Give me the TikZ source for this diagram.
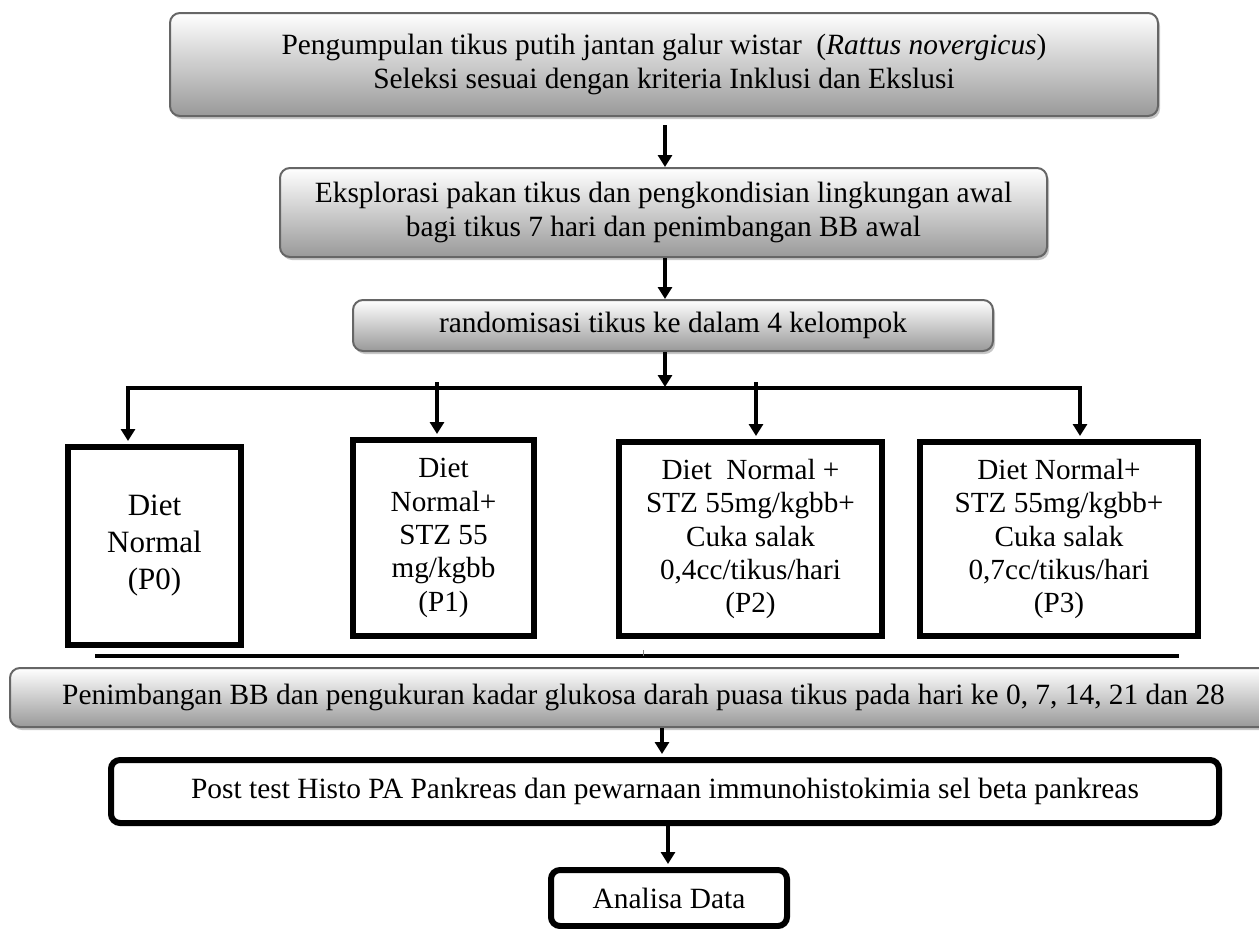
\documentclass[tikz,border=0pt]{standalone}
\usepackage{fontspec}
\setmainfont{Liberation Serif}
\usetikzlibrary{arrows.meta,shadows}

\begin{document}
\begin{tikzpicture}[x=1pt,y=-1pt,
    graybox/.style={draw=black!60, line width=2pt, rounded corners=10pt,
      top color=white, bottom color=black!40,
      drop shadow={shadow xshift=2pt, shadow yshift=-3pt, fill=black!22, opacity=1},
      align=center, inner sep=0pt, font=\fontsize{29.4}{34.5}\selectfont},
    groupbox/.style={draw, line width=6pt, fill=white, align=center, inner sep=0pt,
      font=\fontsize{29.2}{33.3}\selectfont},
    stepbox/.style={draw, line width=6pt, rounded corners=9pt, fill=white,
      align=center, inner sep=0pt, font=\fontsize{29.4}{34}\selectfont},
    arr/.style={line width=3.5pt, -{Triangle[length=12pt,width=14pt]}},
    bus/.style={line width=4pt}]
  \useasboundingbox (0,0) rectangle (1259,929);

  % Preparation steps (shaded boxes)
  \node[graybox, minimum width=988pt, minimum height=103pt] (kumpul) at (664,64.5)
    {Pengumpulan tikus putih jantan galur wistar~ (\textit{Rattus novergicus})\\
     Seleksi sesuai dengan kriteria Inklusi dan Ekslusi};
  \node[graybox, minimum width=767pt, minimum height=89pt] (adaptasi) at (663.5,212.5)
    {Eksplorasi pakan tikus dan pengkondisian lingkungan awal\\
     bagi tikus 7 hari dan penimbangan BB awal};
  \node[graybox, minimum width=640pt, minimum height=51pt] (acak) at (673,325.5)
    {randomisasi tikus ke dalam 4 kelompok};

  \coordinate (spine) at (665,0);
  \draw[arr, shorten <=8pt] (kumpul.south -| spine) -- (adaptasi.north -| spine);
  \draw[arr] (adaptasi.south -| spine) -- (acak.north -| spine);

  % Four treatment groups
  \node[groupbox, minimum width=173pt, minimum height=198pt,
        font=\fontsize{31}{37}\selectfont] (p0) at (154.5,546) {Diet\\Normal\\(P0)};
  \node[groupbox, minimum width=181pt, minimum height=196pt] (p1) at (443.5,538)
    {Diet\\Normal+\\STZ 55\\mg/kgbb\\(P1)};
  \node[groupbox, minimum width=263pt, minimum height=194pt] (p2) at (750.5,539)
    {Diet~ Normal +\\STZ 55mg/kgbb+\\Cuka salak\\0,4cc/tikus/hari\\(P2)};
  \node[groupbox, minimum width=278pt, minimum height=194pt] (p3) at (1059,539)
    {Diet Normal+\\STZ 55mg/kgbb+\\Cuka salak\\0,7cc/tikus/hari\\(P3)};

  % Branching line
  \coordinate (busl) at (128,388);
  \coordinate (busr) at (1080,388);
  \coordinate (d1) at (437,382);
  \coordinate (d2) at (756,382);
  \draw[arr, shorten >=1pt] (acak.south -| spine) -- (spine |- busl);
  \draw[arr, shorten >=3pt] (spine |- busl) -- (busl) -- (busl |- p0.north);
  \draw[arr, shorten >=3pt] (spine |- busr) -- (busr) -- (busr |- p3.north);
  \draw[arr, shorten >=3pt] (d1) -- (d1 |- p1.north);
  \draw[arr, shorten >=3pt] (d2) -- (d2 |- p2.north);

  % Closing line under the groups
  \coordinate (sepl) at (95,656);
  \coordinate (sepr) at (1179,656);
  \draw[bus] (sepl) -- (sepr);
  \draw[line width=0.8pt, black!50] (643,650) -- (643,656);

  % Measurement and final steps
  \node[graybox, minimum width=1267pt, minimum height=59pt] (timbang) at (643.5,697.5)
    {Penimbangan BB dan pengukuran kadar glukosa darah puasa tikus pada hari ke 0, 7, 14, 21 dan 28};
  \node[stepbox, minimum width=1108pt, minimum height=63pt] (post) at (665,791.5)
    {Post test Histo PA Pankreas dan pewarnaan immunohistokimia sel beta pankreas};
  \node[stepbox, minimum width=236pt, minimum height=56pt] (analisa) at (669,898)
    {Analisa Data};

  \coordinate (spine2) at (662,0);
  \coordinate (spine3) at (668,0);
  \draw[arr, shorten >=3pt] (timbang.south -| spine2) -- (post.north -| spine2);
  \draw[arr, shorten >=3pt] (post.south -| spine3) -- (analisa.north -| spine3);

\end{tikzpicture}
\end{document}
